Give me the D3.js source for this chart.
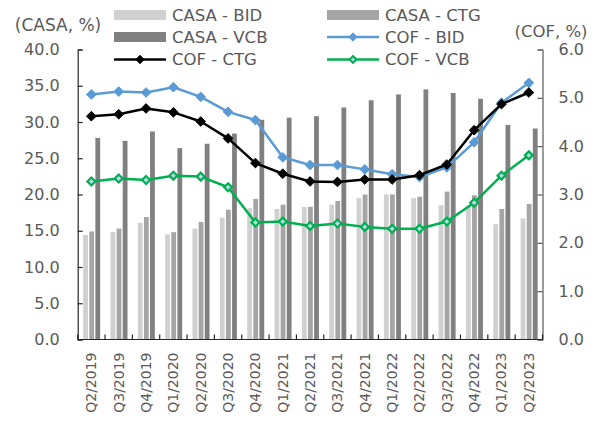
<!DOCTYPE html>
<html>
<head>
<meta charset="utf-8">
<script src="https://cdn.jsdelivr.net/npm/d3@7"></script>
<style>
  html, body { margin: 0; padding: 0; background: #fff; }
  svg { display: block; }
  text { font-family: "DejaVu Sans", Verdana, sans-serif; fill: #595959; }
</style>
</head>
<body>
<svg id="chart" width="598" height="424"></svg>
<script>
const categories = ["Q2/2019","Q3/2019","Q4/2019","Q1/2020","Q2/2020","Q3/2020","Q4/2020","Q1/2021","Q2/2021","Q3/2021","Q4/2021","Q1/2022","Q2/2022","Q3/2022","Q4/2022","Q1/2023","Q2/2023"];
const casaBID = [14.4,14.8,16.1,14.5,15.3,16.8,18.1,18.0,18.3,18.6,19.5,20.0,19.5,18.5,18.5,15.9,16.7];
const casaCTG = [14.9,15.3,16.9,14.8,16.2,17.9,19.4,18.6,18.3,19.1,20.0,20.0,19.7,20.4,19.9,18.0,18.7];
const casaVCB = [27.8,27.4,28.7,26.4,27.0,28.4,30.3,30.6,30.8,32.0,33.0,33.8,34.5,34.0,33.2,29.6,29.1];
const cofBID = [5.07,5.13,5.11,5.22,5.02,4.71,4.54,3.77,3.61,3.61,3.52,3.42,3.36,3.56,4.08,4.90,5.31];
const cofCTG = [4.62,4.66,4.78,4.70,4.51,4.16,3.65,3.43,3.27,3.26,3.31,3.31,3.40,3.62,4.33,4.87,5.11];
const cofVCB = [3.27,3.33,3.30,3.39,3.37,3.15,2.42,2.44,2.35,2.40,2.33,2.29,2.29,2.44,2.83,3.39,3.81];
const leftTicks = [0,5,10,15,20,25,30,35,40];
const rightTicks = [0,1,2,3,4,5,6];

const svg = d3.select("#chart");
const L = 77.7, R = 542.5, T = 49.5, B = 339.5;

const x = d3.scaleBand().domain(categories).range([L, R]).padding(0);
const yL = d3.scaleLinear().domain([0, 40]).range([B, T]);
const yR = d3.scaleLinear().domain([0, 6]).range([B, T]);

const barSeries = [
  {name: "CASA - BID", data: casaBID, color: "#d0d0d0", off: -6.1},
  {name: "CASA - CTG", data: casaCTG, color: "#a5a5a5", off: 0},
  {name: "CASA - VCB", data: casaVCB, color: "#808080", off: 6.1}
];
const bw = 4.8;

barSeries.forEach(s => {
  svg.append("g").selectAll("rect").data(s.data).join("rect")
    .attr("x", (d, i) => x(categories[i]) + x.bandwidth() / 2 + 0.3 + s.off - bw / 2)
    .attr("y", d => yL(d))
    .attr("width", bw)
    .attr("height", d => B - yL(d))
    .attr("fill", s.color);
});

// axes
const axL = svg.append("g").attr("transform", `translate(${L},0)`)
  .call(d3.axisLeft(yL).tickValues(leftTicks).tickFormat(d3.format(".1f")).tickSize(-5).tickPadding(18));
axL.select(".domain").attr("stroke", "#262626").attr("stroke-width", 1.2);
axL.selectAll(".tick line").attr("stroke", "#262626").attr("stroke-width", 1.2);
axL.selectAll("text").attr("font-size", 16).attr("fill", "#595959").attr("font-family", "DejaVu Sans");

const axR = svg.append("g").attr("transform", `translate(${R},0)`)
  .call(d3.axisRight(yR).tickValues(rightTicks).tickFormat(d3.format(".1f")).tickSize(-5).tickPadding(16));
axR.select(".domain").attr("stroke", "#595959").attr("stroke-width", 1.2);
axR.selectAll(".tick line").attr("stroke", "#595959").attr("stroke-width", 1.2);
axR.selectAll("text").attr("font-size", 16).attr("fill", "#595959").attr("font-family", "DejaVu Sans");

// x axis
const gx = svg.append("g");
gx.append("line").attr("x1", L).attr("x2", R).attr("y1", B).attr("y2", B)
  .attr("stroke", "#262626").attr("stroke-width", 1.2);
const bounds = categories.map(c => x(c)).concat([R]);
gx.selectAll("line.t").data(bounds).join("line").attr("class", "t")
  .attr("x1", d => d).attr("x2", d => d).attr("y1", B).attr("y2", B - 5)
  .attr("stroke", "#262626").attr("stroke-width", 1.2);
gx.selectAll("text").data(categories).join("text")
  .attr("transform", d => `translate(${x(d) + x.bandwidth() / 2 + 5},${B + 13}) rotate(-90)`)
  .attr("text-anchor", "end")
  .attr("font-size", 14)
  .text(d => d);

// lines
const lineSeries = [
  {name: "COF - BID", data: cofBID, color: "#5b9bd5", fill: "#5b9bd5"},
  {name: "COF - CTG", data: cofCTG, color: "#000000", fill: "#000000"},
  {name: "COF - VCB", data: cofVCB, color: "#00b050", fill: "#bdd7ee"}
];
const cx = i => x(categories[i]) + x.bandwidth() / 2;
lineSeries.forEach(s => {
  const line = d3.line().x((d, i) => cx(i)).y(d => yR(d));
  svg.append("path").datum(s.data).attr("d", line)
    .attr("fill", "none").attr("stroke", s.color).attr("stroke-width", 2.5)
    .attr("stroke-linejoin", "round");
  svg.append("g").selectAll("path").data(s.data).join("path")
    .attr("d", d3.symbol().type(d3.symbolDiamond2).size(s.name === "COF - VCB" ? 40 : 60))
    .attr("transform", (d, i) => `translate(${cx(i)},${yR(d)})`)
    .attr("fill", s.fill)
    .attr("stroke", s.color)
    .attr("stroke-width", s.name === "COF - VCB" ? 2.2 : 1);
});

// axis titles
svg.append("text").attr("x", 58).attr("y", 31).attr("text-anchor", "middle")
  .attr("font-size", 17).text("(CASA, %)");
svg.append("text").attr("x", 551).attr("y", 37).attr("text-anchor", "middle")
  .attr("font-size", 16.5).text("(COF, %)");

// legend
const legend = [
  {name: "CASA - BID", type: "bar", color: "#d0d0d0", col: 0, row: 0},
  {name: "CASA - CTG", type: "bar", color: "#a5a5a5", col: 1, row: 0},
  {name: "CASA - VCB", type: "bar", color: "#808080", col: 0, row: 1},
  {name: "COF - BID", type: "line", color: "#5b9bd5", fill: "#5b9bd5", col: 1, row: 1},
  {name: "COF - CTG", type: "line", color: "#000000", fill: "#000000", col: 0, row: 2},
  {name: "COF - VCB", type: "line", color: "#00b050", fill: "#bdd7ee", col: 1, row: 2}
];
const colX = [114, 327], rowY = [15, 37, 59.5];
legend.forEach(l => {
  const gx0 = colX[l.col], gy = rowY[l.row];
  const g = svg.append("g");
  if (l.type === "bar") {
    g.append("rect").attr("x", gx0).attr("y", gy - 5).attr("width", 52).attr("height", 10).attr("fill", l.color);
  } else {
    g.append("line").attr("x1", gx0).attr("x2", gx0 + 52).attr("y1", gy).attr("y2", gy)
      .attr("stroke", l.color).attr("stroke-width", 2.5);
    g.append("path").attr("d", d3.symbol().type(d3.symbolDiamond2).size(l.name === "COF - VCB" ? 30 : 45))
      .attr("transform", `translate(${gx0 + 26},${gy})`)
      .attr("fill", l.fill).attr("stroke", l.color).attr("stroke-width", l.name === "COF - VCB" ? 2 : 1);
  }
  g.append("text").attr("x", gx0 + 58).attr("y", gy).attr("dy", "0.36em")
    .attr("font-size", 16.5).text(l.name);
});
</script>
</body>
</html>
